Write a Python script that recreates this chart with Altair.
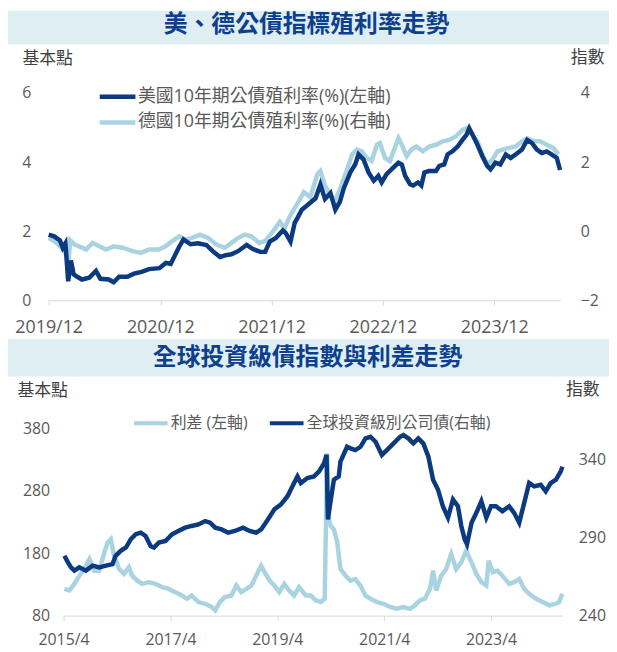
import altair as alt
import pandas as pd

# ---------------- text ----------------
TITLE_TOP = "美、德公債指標殖利率走勢"
TITLE_BOTTOM = "全球投資級債指數與利差走勢"
TOP_SERIES = ["美國10年期公債殖利率(%)(左軸)", "德國10年期公債殖利率(%)(右軸)"]
BOTTOM_SERIES = ["利差 (左軸)", "全球投資級別公司債(右軸)"]
LEFT_UNIT = "基本點"
RIGHT_UNIT = "指數"

# ---------------- top panel data ----------------
us_dates = ["2019-12-01", "2019-12-19", "2020-01-07", "2020-01-16", "2020-01-25", "2020-02-03",
            "2020-02-12", "2020-02-21", "2020-03-04", "2020-03-19", "2020-04-12", "2020-05-04",
            "2020-05-19", "2020-06-15", "2020-07-01", "2020-07-19", "2020-08-15", "2020-09-06",
            "2020-10-01", "2020-10-25", "2020-11-28", "2020-12-19", "2021-01-04", "2021-01-21",
            "2021-02-01", "2021-02-15", "2021-03-10", "2021-04-04", "2021-05-01", "2021-05-22",
            "2021-06-15", "2021-07-01", "2021-07-22", "2021-08-13", "2021-09-10", "2021-10-01",
            "2021-10-25", "2021-11-10", "2021-11-25", "2021-12-15", "2022-01-07", "2022-01-16",
            "2022-02-01", "2022-02-15", "2022-02-25", "2022-03-10", "2022-03-28", "2022-04-24",
            "2022-05-10", "2022-05-25", "2022-06-12", "2022-06-28", "2022-07-13", "2022-07-25",
            "2022-08-16", "2022-09-01", "2022-09-12", "2022-09-28", "2022-10-15", "2022-11-01",
            "2022-11-16", "2022-11-27", "2022-12-13", "2023-01-04", "2023-01-21", "2023-02-01",
            "2023-02-12", "2023-02-28", "2023-03-10", "2023-03-26", "2023-04-06", "2023-04-16",
            "2023-05-01", "2023-05-24", "2023-06-04", "2023-06-20", "2023-07-01", "2023-07-17",
            "2023-08-03", "2023-08-19", "2023-09-01", "2023-09-10", "2023-09-21", "2023-10-07",
            "2023-10-23", "2023-11-08", "2023-11-19", "2023-12-05", "2023-12-21", "2024-01-08",
            "2024-01-24", "2024-02-09", "2024-03-01", "2024-03-18", "2024-04-03", "2024-04-19",
            "2024-05-05", "2024-05-21", "2024-06-06", "2024-06-23", "2024-07-04"]
us_yield = [1.90, 1.85, 1.73, 1.52, 1.65, 0.55,
            1.15, 0.75, 0.68, 0.60, 0.65, 0.85,
            0.62, 0.60, 0.52, 0.68, 0.68, 0.77,
            0.82, 0.90, 0.93, 1.08, 1.05, 1.35,
            1.55, 1.76, 1.62, 1.65, 1.60, 1.42,
            1.25, 1.30, 1.33, 1.42, 1.60, 1.48,
            1.40, 1.40, 1.70, 1.80, 2.02, 1.95,
            1.70, 2.25, 2.40, 2.62, 2.75, 2.95,
            3.35, 2.93, 3.10, 2.62, 2.85, 3.22,
            3.70, 3.93, 4.22, 4.08, 3.70, 3.46,
            3.60, 3.41, 3.65, 3.84, 3.98, 3.93,
            3.60, 3.36, 3.32, 3.41, 3.32, 3.70,
            3.74, 3.74, 3.89, 3.93, 4.22, 4.31,
            4.45, 4.64, 4.79, 4.98, 4.79, 4.50,
            4.17, 3.89, 3.79, 3.98, 3.93, 4.22,
            4.12, 4.22, 4.36, 4.64, 4.55, 4.36,
            4.26, 4.31, 4.22, 4.12, 3.77]

de_dates = ["2019-12-01", "2019-12-20", "2020-01-12", "2020-01-28", "2020-02-04", "2020-02-10",
            "2020-02-24", "2020-03-10", "2020-04-02", "2020-04-23", "2020-05-15", "2020-06-06",
            "2020-07-02", "2020-07-30", "2020-09-01", "2020-09-28", "2020-10-25", "2020-11-27",
            "2020-12-18", "2021-01-09", "2021-02-01", "2021-02-22", "2021-03-13", "2021-04-10",
            "2021-05-07", "2021-06-03", "2021-07-01", "2021-07-22", "2021-08-13", "2021-09-04",
            "2021-09-25", "2021-10-22", "2021-11-09", "2021-12-01", "2021-12-28", "2022-01-13",
            "2022-01-29", "2022-02-25", "2022-03-17", "2022-04-07", "2022-04-30", "2022-05-10",
            "2022-05-25", "2022-06-12", "2022-06-28", "2022-07-13", "2022-08-06", "2022-08-22",
            "2022-09-07", "2022-09-23", "2022-10-09", "2022-10-25", "2022-11-11", "2022-11-21",
            "2022-12-08", "2022-12-24", "2023-01-09", "2023-01-21", "2023-02-01", "2023-02-17",
            "2023-03-04", "2023-03-20", "2023-04-11", "2023-05-02", "2023-05-24", "2023-06-15",
            "2023-07-06", "2023-07-28", "2023-08-19", "2023-09-01", "2023-09-16", "2023-10-07",
            "2023-10-23", "2023-11-08", "2023-11-25", "2023-12-12", "2023-12-28", "2024-01-19",
            "2024-02-09", "2024-03-01", "2024-03-18", "2024-04-09", "2024-04-30", "2024-05-21",
            "2024-06-12", "2024-06-28"]
de_yield = [-0.20, -0.29, -0.48, -0.67, -0.86, -0.27,
            -0.39, -0.44, -0.53, -0.34, -0.44, -0.53,
            -0.44, -0.48, -0.58, -0.63, -0.53, -0.53,
            -0.44, -0.29, -0.15, -0.25, -0.20, -0.10,
            -0.20, -0.39, -0.48, -0.34, -0.20, -0.10,
            -0.15, -0.34, -0.29, -0.06, 0.27, 0.08,
            0.42, 0.82, 1.13, 0.99, 1.65, 1.74,
            1.32, 1.03, 0.89, 1.22, 1.79, 2.22,
            2.36, 2.31, 2.12, 2.03, 2.50, 2.55,
            2.12, 2.03, 2.41, 2.69, 2.50, 2.17,
            2.36, 2.45, 2.31, 2.45, 2.50, 2.60,
            2.64, 2.74, 2.93, 2.98, 2.83, 2.60,
            2.22, 1.93, 2.07, 2.31, 2.36, 2.41,
            2.45, 2.60, 2.69, 2.60, 2.60, 2.50,
            2.41, 2.22]

top_left_ticks = [0, 2, 4, 6]
top_right_ticks = [-2, 0, 2, 4]
top_x_years = [2019, 2020, 2021, 2022, 2023]

# ---------------- bottom panel data ----------------
idx_dates = ["2015-04-07", "2015-05-01", "2015-05-22", "2015-06-14", "2015-07-18", "2015-09-01",
             "2015-10-16", "2015-12-01", "2016-01-16", "2016-03-01", "2016-03-22", "2016-04-26",
             "2016-06-01", "2016-07-04", "2016-08-07", "2016-09-10", "2016-10-13", "2016-11-16",
             "2016-12-09", "2017-01-12", "2017-02-26", "2017-04-12", "2017-05-25", "2017-07-10",
             "2017-08-24", "2017-10-09", "2017-11-24", "2017-12-28", "2018-02-01", "2018-03-16",
             "2018-05-01", "2018-06-15", "2018-08-10", "2018-09-24", "2018-11-08", "2018-12-12",
             "2019-01-27", "2019-03-12", "2019-04-25", "2019-06-10", "2019-07-13", "2019-08-17",
             "2019-09-09", "2019-10-24", "2019-12-08", "2020-01-12", "2020-02-15", "2020-03-03",
             "2020-03-12", "2020-04-01", "2020-04-22", "2020-05-25", "2020-06-06", "2020-07-21",
             "2020-08-13", "2020-09-16", "2020-10-21", "2020-11-24", "2020-12-28", "2021-02-01",
             "2021-03-16", "2021-04-19", "2021-06-04", "2021-07-19", "2021-08-10", "2021-09-13",
             "2021-10-17", "2021-11-20", "2021-12-24", "2022-01-28", "2022-03-01", "2022-04-04",
             "2022-05-07", "2022-06-11", "2022-07-15", "2022-08-18", "2022-09-10", "2022-10-03",
             "2022-10-19", "2022-11-19", "2022-12-22", "2023-01-25", "2023-02-28", "2023-04-01",
             "2023-05-04", "2023-06-18", "2023-08-03", "2023-09-06", "2023-10-11", "2023-11-14",
             "2023-12-18", "2024-01-21", "2024-03-06", "2024-04-09", "2024-05-13", "2024-06-18",
             "2024-07-21", "2024-08-01"]
idx_vals = [278.3, 274.1, 270.9, 268.8, 270.9, 268.8,
            272.0, 270.9, 272.0, 273.0, 278.3, 281.5,
            283.6, 288.9, 292.1, 293.1, 291.0, 284.6,
            283.6, 286.8, 287.8, 292.1, 294.2, 296.3,
            297.4, 298.4, 300.5, 299.5, 296.3, 295.2,
            293.1, 294.2, 296.3, 294.2, 293.1, 295.2,
            301.6, 308.0, 311.1, 316.4, 322.7, 329.1,
            324.9, 328.1, 329.1, 332.3, 337.6, 342.9,
            301.6, 314.3, 327.0, 329.1, 338.6, 348.1,
            347.1, 346.0, 348.1, 353.5, 354.5, 351.3,
            342.9, 346.0, 350.3, 354.5, 355.6, 353.5,
            350.3, 353.5, 350.3, 341.8, 327.0, 320.6,
            310.0, 302.7, 314.3, 310.0, 297.4, 288.9,
            285.7, 299.5, 305.8, 313.2, 302.7, 310.0,
            310.0, 306.9, 310.0, 305.8, 299.5, 312.2,
            324.9, 322.7, 323.8, 319.6, 324.9, 327.0,
            332.3, 335.4]

spr_dates = ["2015-04-07", "2015-05-11", "2015-06-14", "2015-07-18", "2015-08-21", "2015-09-25",
             "2015-10-28", "2015-12-01", "2016-01-05", "2016-01-27", "2016-02-18", "2016-03-12",
             "2016-04-15", "2016-05-18", "2016-06-21", "2016-07-13", "2016-08-17", "2016-09-20",
             "2016-11-05", "2016-12-19", "2017-02-03", "2017-03-19", "2017-05-04", "2017-06-18",
             "2017-07-22", "2017-08-24", "2017-10-09", "2017-11-24", "2018-01-08", "2018-02-01",
             "2018-03-04", "2018-04-07", "2018-05-22", "2018-06-25", "2018-07-28", "2018-09-02",
             "2018-10-06", "2018-11-08", "2018-12-12", "2019-01-04", "2019-02-08", "2019-03-12",
             "2019-04-15", "2019-05-19", "2019-06-22", "2019-07-25", "2019-08-28", "2019-10-13",
             "2019-11-16", "2019-12-19", "2020-01-24", "2020-02-19", "2020-03-07", "2020-03-19",
             "2020-04-01", "2020-04-22", "2020-05-15", "2020-06-06", "2020-07-10", "2020-08-13",
             "2020-09-16", "2020-10-21", "2020-11-24", "2020-12-28", "2021-02-12", "2021-03-28",
             "2021-05-10", "2021-06-25", "2021-08-10", "2021-09-24", "2021-10-28", "2021-12-01",
             "2022-01-04", "2022-02-08", "2022-03-01", "2022-03-22", "2022-04-26", "2022-05-30",
             "2022-07-03", "2022-08-06", "2022-09-10", "2022-10-13", "2022-11-19", "2022-12-22",
             "2023-01-25", "2023-02-28", "2023-03-16", "2023-04-13", "2023-05-16", "2023-06-18",
             "2023-08-03", "2023-09-06", "2023-10-11", "2023-11-14", "2023-12-18", "2024-02-03",
             "2024-03-19", "2024-05-04", "2024-06-18", "2024-07-09", "2024-08-01"]
spr_vals = [122.8, 120.2, 130.8, 144.0, 154.6, 170.5,
            151.9, 151.9, 181.1, 197.0, 202.2, 175.7,
            154.6, 146.7, 157.3, 144.0, 136.0, 130.8,
            133.5, 130.8, 125.5, 122.8, 117.6, 112.2,
            107.0, 112.2, 101.7, 99.0, 93.8, 88.4,
            101.7, 109.7, 112.2, 128.1, 117.6, 122.8,
            128.1, 144.0, 159.8, 149.4, 136.0, 128.1,
            117.6, 130.8, 120.2, 112.2, 125.5, 112.2,
            112.2, 104.4, 101.7, 107.0, 340.0, 234.0,
            223.3, 218.0, 197.0, 154.6, 144.0, 136.0,
            138.6, 128.0, 112.0, 107.0, 101.7, 99.0,
            93.8, 91.0, 93.8, 91.0, 96.4, 104.4,
            107.0, 122.8, 151.9, 120.2, 144.0, 154.6,
            178.4, 154.6, 165.2, 183.7, 165.2, 146.7,
            133.5, 128.1, 167.8, 149.4, 151.9, 144.0,
            130.8, 133.5, 138.6, 122.8, 115.0, 107.0,
            101.7, 96.4, 99.0, 101.7, 115.0]

bot_left_ticks = [80, 180, 280, 380]
bot_right_ticks = [240, 290, 340]
bot_x_years = [2015, 2017, 2019, 2021, 2023]

# ---------------- style ----------------
DARK = "#0b3a80"
LIGHT = "#a9d3e1"
BANNER = "#deeef3"
TITLE_COLOR = "#0e3f8d"
LABEL = "#595959"
UNIT_COLOR = "#404040"
AXIS_LINE = "#d9d9d9"
CJK = "Noto Sans CJK TC"
NUM = "Open Sans"
MIXED = "'Open Sans', 'Noto Sans CJK TC'"
LW = 4.5


def dt(y, m, d):
    return alt.DateTime(year=y, month=m, date=d, utc=True)


def banner(title, x1, x2, y1, y2, tx, ty):
    src = pd.DataFrame({"t": [title]})
    rect = alt.Chart(src).mark_rect(color=BANNER).encode(
        x=alt.value(x1), x2=alt.value(x2), y=alt.value(y1), y2=alt.value(y2))
    txt = alt.Chart(src).mark_text(font=CJK, fontSize=24, fontWeight="bold", color=TITLE_COLOR,
                                   align="center", baseline="middle").encode(
        x=alt.value(tx), y=alt.value(ty), text="t:N")
    return rect, txt


def y_axis(orient, values, pad, title, tx, ty, size=16):
    return alt.Axis(orient=orient, values=values, domain=False, ticks=False, tickSize=0, grid=False,
                    labelPadding=pad, labelFont=NUM, labelFontSize=size, labelColor=LABEL,
                    title=title, titleAngle=0, titleAlign=("left" if orient == "left" else "right"),
                    titleBaseline="middle", titleX=tx, titleY=ty, titleFont=CJK, titleFontSize=17,
                    titleFontWeight="normal", titleColor=UNIT_COLOR)


# Both panels share the same plot origin in the vertical stack (page x = 64);
# the top panel's time axis starts 15px further left.

# ---------------- top panel ----------------
W1, H1 = 501, 209
top_rect, top_title = banner(TITLE_TOP, -56, 550, -83, -49, 245, -68)

top_x = alt.X("date:T",
              scale=alt.Scale(type="utc", domain=[dt(2019, 12, 1), dt(2024, 7, 5)], range=[-15, W1]),
              axis=alt.Axis(values=[dt(y, 12, 1) for y in top_x_years], format="%Y/%m",
                            labelFont=NUM, labelFontSize=18, labelColor=LABEL, domainColor=AXIS_LINE,
                            tickColor=AXIS_LINE, tickSize=5, labelPadding=14, grid=False, title=None,
                            labelFlush=False, labelOverlap=False))
top_color = alt.Color("series:N", scale=alt.Scale(domain=TOP_SERIES, range=[DARK, LIGHT]),
                      legend=alt.Legend(orient="none", legendX=34, legendY=-9, direction="vertical",
                                        title=None, symbolType="stroke", symbolSize=1296,
                                        symbolStrokeWidth=4.5, labelFont=MIXED, labelFontSize=18,
                                        labelColor=LABEL, labelOffset=0, labelLimit=500,
                                        clipHeight=25.5, rowPadding=0, padding=0, offset=0))

us_df = pd.DataFrame({"date": us_dates, "value": us_yield, "series": TOP_SERIES[0]})
de_df = pd.DataFrame({"date": de_dates, "value": de_yield, "series": TOP_SERIES[1]})

us_line = alt.Chart(us_df).mark_line(strokeWidth=LW).encode(
    x=top_x,
    y=alt.Y("value:Q", scale=alt.Scale(domain=[0, 6]),
            axis=y_axis("left", top_left_ticks, 33, LEFT_UNIT, -42, -35)),
    color=top_color)
de_line = alt.Chart(de_df).mark_line(strokeWidth=LW).encode(
    x=top_x,
    y=alt.Y("value:Q", scale=alt.Scale(domain=[-2, 4]),
            axis=y_axis("right", top_right_ticks, 20, RIGHT_UNIT, 44, -36)),
    color=top_color)

top = alt.layer(top_rect, top_title, de_line, us_line).resolve_scale(y="independent").properties(
    width=W1, height=H1)

# ---------------- bottom panel ----------------
W2, H2 = 503, 189
bot_rect, bot_title = banner(TITLE_BOTTOM, -56, 550, -90, -52, 246, -71)

bot_x = alt.X("date:T",
              scale=alt.Scale(type="utc", domain=[dt(2015, 4, 1), dt(2024, 8, 1)]),
              axis=alt.Axis(values=[dt(y, 4, 1) for y in bot_x_years], format="%Y/%-m",
                            labelFont=NUM, labelFontSize=16, labelColor=LABEL, domainColor=AXIS_LINE,
                            tickColor=AXIS_LINE, tickSize=5, labelPadding=11, grid=False, title=None,
                            labelFlush=False, labelOverlap=False))
bot_color = alt.Color("series:N", scale=alt.Scale(domain=BOTTOM_SERIES, range=[LIGHT, DARK]),
                      legend=alt.Legend(orient="none", legendX=69, legendY=-15, direction="horizontal",
                                        title=None, symbolType="stroke", symbolSize=1156,
                                        symbolStrokeWidth=4, labelFont=MIXED, labelFontSize=16,
                                        labelColor=LABEL, labelOffset=1, labelLimit=500,
                                        clipHeight=20, columnPadding=20, padding=0, offset=0))

spr_df = pd.DataFrame({"date": spr_dates, "value": spr_vals, "series": BOTTOM_SERIES[0]})
idx_df = pd.DataFrame({"date": idx_dates, "value": idx_vals, "series": BOTTOM_SERIES[1]})

spr_line = alt.Chart(spr_df).mark_line(strokeWidth=LW).encode(
    x=bot_x,
    y=alt.Y("value:Q", scale=alt.Scale(domain=[80, 380]),
            axis=y_axis("left", bot_left_ticks, 14, LEFT_UNIT, -47, -38)),
    color=bot_color)
idx_line = alt.Chart(idx_df).mark_line(strokeWidth=LW).encode(
    x=bot_x,
    y=alt.Y("value:Q", scale=alt.Scale(domain=[240, 360]),
            axis=y_axis("right", bot_right_ticks, 16, RIGHT_UNIT, 37, -39)),
    color=bot_color)

bottom = alt.layer(bot_rect, bot_title, spr_line, idx_line).resolve_scale(y="independent").properties(
    width=W2, height=H2)

chart = (alt.vconcat(top, bottom, spacing=2)
         .resolve_scale(color="independent")
         .resolve_legend(color="independent")
         .properties(padding=0)
         .configure_view(stroke=None))

chart.save("out.html", embed_options={"renderer": "svg", "actions": False})
